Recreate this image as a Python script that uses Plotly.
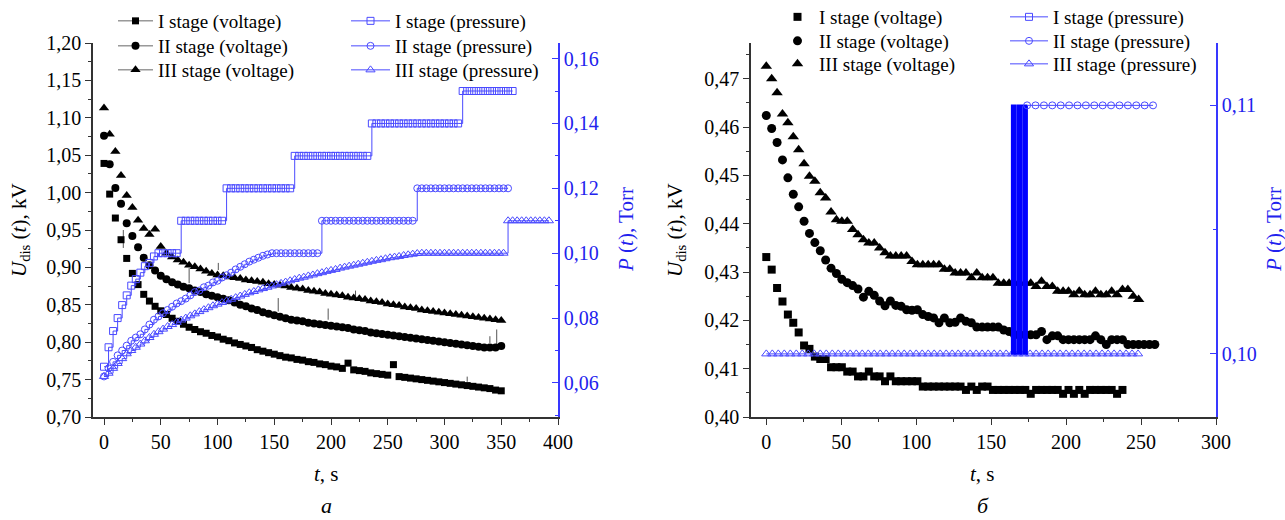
import plotly.graph_objects as go

# ---------------- DATA ----------------
# Panel a: voltage (kV), sampled every 5 s
t_volt_a = list(range(0, 351, 5))
u1_a = [1.039, 0.998, 0.966, 0.937, 0.912, 0.892, 0.877, 0.864, 0.855, 0.848,
        0.842, 0.837, 0.832, 0.828, 0.824, 0.820, 0.817, 0.814, 0.812, 0.809,
        0.807, 0.804, 0.802, 0.799, 0.797, 0.795, 0.793, 0.790, 0.788, 0.786,
        0.784, 0.782, 0.780, 0.779, 0.777, 0.776, 0.774, 0.773, 0.771, 0.770,
        0.768, 0.767, 0.765, 0.772, 0.763, 0.762, 0.761, 0.759, 0.758, 0.757,
        0.756, 0.770, 0.754, 0.753, 0.752, 0.751, 0.750, 0.749, 0.748, 0.747,
        0.746, 0.745, 0.744, 0.743, 0.742, 0.741, 0.740, 0.739, 0.738, 0.736,
        0.735]
u2_a = [1.076, 1.038, 1.006, 0.985, 0.959, 0.942, 0.927, 0.913, 0.903, 0.896,
        0.889, 0.884, 0.880, 0.877, 0.874, 0.872, 0.869, 0.867, 0.864, 0.862,
        0.860, 0.858, 0.856, 0.853, 0.850, 0.848, 0.845, 0.843, 0.840, 0.838,
        0.836, 0.834, 0.832, 0.830, 0.829, 0.828, 0.826, 0.825, 0.824, 0.823,
        0.822, 0.821, 0.820, 0.819, 0.817, 0.816, 0.815, 0.813, 0.812, 0.811,
        0.810, 0.809, 0.808, 0.807, 0.806, 0.805, 0.804, 0.803, 0.802, 0.801,
        0.800, 0.799, 0.798, 0.797, 0.796, 0.795, 0.794, 0.793, 0.793, 0.793,
        0.795]
u3_a = [1.113, 1.078, 1.055, 1.023, 0.996, 0.980, 0.963, 0.952, 0.944, 0.951,
        0.928, 0.919, 0.914, 0.910, 0.907, 0.903, 0.901, 0.898, 0.895, 0.892,
        0.890, 0.889, 0.887, 0.886, 0.885, 0.883, 0.882, 0.881, 0.880, 0.878,
        0.877, 0.876, 0.875, 0.873, 0.872, 0.871, 0.869, 0.868, 0.867, 0.865,
        0.864, 0.863, 0.862, 0.860, 0.859, 0.858, 0.857, 0.855, 0.854, 0.853,
        0.851, 0.850, 0.849, 0.847, 0.846, 0.845, 0.843, 0.842, 0.841, 0.840,
        0.839, 0.838, 0.837, 0.836, 0.835, 0.834, 0.833, 0.832, 0.831, 0.830,
        0.829]
# Panel a: thin vertical spikes seen in the voltage record (t, low, high)
spike_t = [17.0, 75.0, 100.7, 153.5, 197.5, 221.6, 320.0, 340.0, 346.0]
spike_lo = [0.926, 0.879, 0.8965, 0.841, 0.830, 0.8587, 0.747, 0.799, 0.796]
spike_hi = [0.950, 0.899, 0.906, 0.859, 0.845, 0.869, 0.754, 0.808, 0.817]

# Panel a: pressure (Torr), sampled every 4 s
t_p1_a = list(range(0, 361, 4))
p1_a = [0.065, 0.071, 0.076, 0.080, 0.084, 0.087, 0.090, 0.092, 0.094, 0.096,
        0.097, 0.099, 0.100, 0.100, 0.100, 0.100, 0.100,
        0.110, 0.110, 0.110, 0.110, 0.110, 0.110, 0.110, 0.110, 0.110, 0.110,
        0.120, 0.120, 0.120, 0.120, 0.120, 0.120, 0.120, 0.120, 0.120, 0.120,
        0.120, 0.120, 0.120, 0.120, 0.120,
        0.130, 0.130, 0.130, 0.130, 0.130, 0.130, 0.130, 0.130, 0.130, 0.130,
        0.130, 0.130, 0.130, 0.130, 0.130, 0.130, 0.130,
        0.140, 0.140, 0.140, 0.140, 0.140, 0.140, 0.140, 0.140, 0.140, 0.140,
        0.140, 0.140, 0.140, 0.140, 0.140, 0.140, 0.140, 0.140, 0.140, 0.140,
        0.150, 0.150, 0.150, 0.150, 0.150, 0.150, 0.150, 0.150, 0.150, 0.150,
        0.150, 0.150]
t_p2_a = list(range(0, 357, 4))
p2_a = [0.0620, 0.0645, 0.0665, 0.0685, 0.0700, 0.0715, 0.0730, 0.0740, 0.0750, 0.0765,
        0.0780, 0.0795, 0.0805, 0.0815, 0.0825, 0.0835, 0.0845, 0.0852, 0.0860, 0.0870,
        0.0880, 0.0885, 0.0895, 0.0900, 0.0910, 0.0915, 0.0925, 0.0932, 0.0940, 0.0950,
        0.0958, 0.0966, 0.0974, 0.0980, 0.0986, 0.0992, 0.0996, 0.1000,
        0.100, 0.100, 0.100, 0.100, 0.100, 0.100, 0.100, 0.100, 0.100, 0.100,
        0.110, 0.110, 0.110, 0.110, 0.110, 0.110, 0.110, 0.110, 0.110, 0.110,
        0.110, 0.110, 0.110, 0.110, 0.110, 0.110, 0.110, 0.110, 0.110, 0.110, 0.110,
        0.120, 0.120, 0.120, 0.120, 0.120, 0.120, 0.120, 0.120, 0.120, 0.120,
        0.120, 0.120, 0.120, 0.120, 0.120, 0.120, 0.120, 0.120, 0.120, 0.120, 0.120]
t_p3_a = list(range(0, 393, 4))
p3_a = [0.0620, 0.0630, 0.0645, 0.0660, 0.0675, 0.0690, 0.0700, 0.0710, 0.0720, 0.0730,
        0.0740, 0.0750, 0.0758, 0.0766, 0.0774, 0.0780, 0.0787, 0.0794, 0.0800, 0.0807,
        0.0813, 0.0820, 0.0826, 0.0832, 0.0838, 0.0843, 0.0848, 0.0853, 0.0858, 0.0863,
        0.0868, 0.0873, 0.0878, 0.0882, 0.0887, 0.0891, 0.0895, 0.0899, 0.0903, 0.0907,
        0.0911, 0.0915, 0.0919, 0.0923, 0.0926, 0.0930, 0.0933, 0.0937, 0.0940, 0.0944,
        0.0947, 0.0950, 0.0954, 0.0957, 0.0960, 0.0963, 0.0966, 0.0969, 0.0972, 0.0975,
        0.0978, 0.0980, 0.0983, 0.0986, 0.0988, 0.0990, 0.0993, 0.0995, 0.0997, 0.0999,
        0.100, 0.100, 0.100, 0.100, 0.100, 0.100, 0.100, 0.100, 0.100, 0.100,
        0.100, 0.100, 0.100, 0.100, 0.100, 0.100, 0.100, 0.100, 0.100,
        0.110, 0.110, 0.110, 0.110, 0.110, 0.110, 0.110, 0.110, 0.110, 0.110]

# Panel b: voltage (kV), sampled every 3.6 s
t_v1_b = [round(3.6 * i, 1) for i in range(67)]
u1_b = [0.4331, 0.4305, 0.4267, 0.4239, 0.4212, 0.4195, 0.4175, 0.4148, 0.4141, 0.4125,
        0.4120, 0.4120, 0.4103, 0.4103, 0.4103, 0.4094, 0.4094, 0.4084, 0.4084, 0.4094,
        0.4084, 0.4084, 0.4074, 0.4084, 0.4074, 0.4074, 0.4074, 0.4074, 0.4074, 0.4063,
        0.4063, 0.4063, 0.4063, 0.4063, 0.4063, 0.4063, 0.4063, 0.4056, 0.4063, 0.4056,
        0.4063, 0.4063, 0.4056, 0.4056, 0.4056, 0.4056, 0.4056, 0.4056, 0.4056, 0.4048,
        0.4056, 0.4056, 0.4056, 0.4056, 0.4056, 0.4048, 0.4056, 0.4048, 0.4056, 0.4048,
        0.4056, 0.4056, 0.4056, 0.4056, 0.4056, 0.4048, 0.4056]
t_v2_b = [round(3.6 * i, 1) for i in range(73)]
u2_b = [0.4624, 0.4597, 0.4568, 0.4532, 0.4495, 0.4461, 0.4435, 0.4405, 0.4380, 0.4361,
        0.4344, 0.4325, 0.4308, 0.4297, 0.4285, 0.4278, 0.4272, 0.4265, 0.4248, 0.4260,
        0.4252, 0.4240, 0.4230, 0.4240, 0.4231, 0.4229, 0.4222, 0.4221, 0.4222, 0.4212,
        0.4208, 0.4205, 0.4195, 0.4205, 0.4195, 0.4196, 0.4205, 0.4198, 0.4195, 0.4186,
        0.4186, 0.4186, 0.4186, 0.4186, 0.4180, 0.4177, 0.4170, 0.4170, 0.4170, 0.4170,
        0.4170, 0.4177, 0.4160, 0.4168, 0.4168, 0.4160, 0.4160, 0.4160, 0.4160, 0.4160,
        0.4160, 0.4168, 0.4160, 0.4150, 0.4160, 0.4160, 0.4160, 0.4150, 0.4150, 0.4150,
        0.4150, 0.4150, 0.4150]
t_v3_b = [round(3.6 * i, 1) for i in range(70)]
u3_b = [0.4726, 0.4700, 0.4671, 0.4627, 0.4609, 0.4580, 0.4553, 0.4524, 0.4498, 0.4488,
        0.4464, 0.4453, 0.4424, 0.4408, 0.4405, 0.4405, 0.4388, 0.4377, 0.4367, 0.4360,
        0.4360, 0.4350, 0.4340, 0.4333, 0.4333, 0.4333, 0.4333, 0.4322, 0.4315, 0.4315,
        0.4315, 0.4315, 0.4315, 0.4306, 0.4306, 0.4298, 0.4298, 0.4298, 0.4288, 0.4298,
        0.4288, 0.4288, 0.4288, 0.4277, 0.4277, 0.4277, 0.4277, 0.4277, 0.4277, 0.4277,
        0.4270, 0.4281, 0.4270, 0.4270, 0.4260, 0.4260, 0.4260, 0.4253, 0.4260, 0.4253,
        0.4253, 0.4260, 0.4253, 0.4253, 0.4260, 0.4253, 0.4264, 0.4264, 0.4250, 0.4243]

# Panel b: pressure (Torr)
t_p1_b = [163.2, 163.7, 164.2, 164.7, 165.2, 165.7, 166.2, 167.4, 167.9, 168.4,
          168.9, 169.4, 169.9, 170.4, 171.6, 172.1, 172.6, 173.1, 173.6, 174.0]
p1_b = [0.100, 0.110, 0.100, 0.110, 0.100, 0.110, 0.100, 0.110, 0.100, 0.110,
        0.100, 0.110, 0.100, 0.110, 0.100, 0.110, 0.100, 0.110, 0.100, 0.110]
t_p2_b = [174.0, 179.6, 185.2, 190.8, 196.4, 202.0, 207.6, 213.2, 218.8, 224.4,
          230.0, 235.6, 241.2, 246.8, 252.4, 258.0]
p2_b = [0.110, 0.110, 0.110, 0.110, 0.110, 0.110, 0.110, 0.110, 0.110, 0.110,
        0.110, 0.110, 0.110, 0.110, 0.110, 0.110]
t_p3_b = list(range(0, 249, 4))
p3_b = [0.100, 0.100, 0.100, 0.100, 0.100, 0.100, 0.100, 0.100, 0.100, 0.100,
        0.100, 0.100, 0.100, 0.100, 0.100, 0.100, 0.100, 0.100, 0.100, 0.100,
        0.100, 0.100, 0.100, 0.100, 0.100, 0.100, 0.100, 0.100, 0.100, 0.100,
        0.100, 0.100, 0.100, 0.100, 0.100, 0.100, 0.100, 0.100, 0.100, 0.100,
        0.100, 0.100, 0.100, 0.100, 0.100, 0.100, 0.100, 0.100, 0.100, 0.100,
        0.100, 0.100, 0.100, 0.100, 0.100, 0.100, 0.100, 0.100, 0.100, 0.100,
        0.100, 0.100, 0.100]

volt_names = ["I stage (voltage)", "II stage (voltage)", "III stage (voltage)"]
pres_names = ["I stage (pressure)", "II stage (pressure)", "III stage (pressure)"]

# ---------------- STYLE ----------------
FONT = "Liberation Serif, Times New Roman, serif"
BLUE = "#4a4aff"
BLUE_AX = "#3838ff"
BLUE_TXT = "#2222ee"
W, H = 1285, 520
PLOT_TOP, PLOT_BOT = 43, 417
ydom = [(H - PLOT_BOT) / H, (H - PLOT_TOP) / H]
xdom_a = [93 / W, 558 / W]
xdom_b = [751 / W, 1216 / W]

fig = go.Figure()

vsym_a = [("square", 7), ("circle", 8), ("triangle-up", 9)]
vsym_b = [("square", 8), ("circle", 9), ("triangle-up", 10)]
psym = [("square-open", 7), ("circle-open", 7), ("triangle-up-open", 8)]

def lg(i):
    return "legend" if i == 1 else "legend%d" % i

# Panel a spikes
sx, sy = [], []
for t0, lo, hi in zip(spike_t, spike_lo, spike_hi):
    sx += [t0, t0, None]
    sy += [lo, hi, None]
fig.add_trace(go.Scatter(x=sx, y=sy, mode="lines", showlegend=False,
                         line=dict(color="#555555", width=1), xaxis="x", yaxis="y"))

# Panel a voltage (markers in plot, line+marker sample in legend)
for k, ((sym, sz), uu, nm) in enumerate(zip(vsym_a, [u1_a, u2_a, u3_a], volt_names)):
    fig.add_trace(go.Scatter(x=t_volt_a, y=uu, mode="markers", showlegend=False,
                             marker=dict(symbol=sym, size=sz, color="black", line=dict(width=0)),
                             xaxis="x", yaxis="y"))
    fig.add_trace(go.Scatter(x=[None], y=[None], mode="lines+markers", name=nm, legend=lg(1 + k),
                             line=dict(color="#666666", width=1),
                             marker=dict(symbol=sym, size=sz, color="black"),
                             xaxis="x", yaxis="y"))

# Panel a pressure
for k, ((sym, sz), tt, pp, nm) in enumerate(zip(psym, [t_p1_a, t_p2_a, t_p3_a], [p1_a, p2_a, p3_a], pres_names)):
    fig.add_trace(go.Scatter(x=tt, y=pp, mode="lines+markers", name=nm, legend=lg(4 + k),
                             line=dict(color=BLUE, width=1, shape="hv"),
                             marker=dict(symbol=sym, size=sz, color=BLUE, line=dict(width=1, color=BLUE)),
                             xaxis="x", yaxis="y2"))

# Panel b pressure (drawn beneath voltage)
fig.add_trace(go.Scatter(x=t_p3_b, y=p3_b, mode="lines+markers", name=pres_names[2], legend=lg(12),
                         line=dict(color=BLUE, width=1),
                         marker=dict(symbol="triangle-up-open", size=8, color=BLUE, line=dict(width=1, color=BLUE)),
                         xaxis="x2", yaxis="y4"))
fig.add_trace(go.Scatter(x=t_p1_b, y=p1_b, mode="lines", showlegend=False,
                         line=dict(color="#0000ff", width=1.6, shape="hv"),
                         xaxis="x2", yaxis="y4"))
fig.add_trace(go.Scatter(x=[None], y=[None], mode="lines+markers", name=pres_names[0], legend=lg(10),
                         line=dict(color=BLUE, width=1),
                         marker=dict(symbol="square-open", size=7, color=BLUE, line=dict(width=1, color=BLUE)),
                         xaxis="x2", yaxis="y4"))
fig.add_trace(go.Scatter(x=t_p2_b, y=p2_b, mode="lines+markers", name=pres_names[1], legend=lg(11),
                         line=dict(color=BLUE, width=1),
                         marker=dict(symbol="circle-open", size=7, color=BLUE, line=dict(width=1, color=BLUE)),
                         xaxis="x2", yaxis="y4"))

# Panel b voltage
for k, ((sym, sz), tt, uu, nm) in enumerate(zip(vsym_b, [t_v1_b, t_v2_b, t_v3_b], [u1_b, u2_b, u3_b], volt_names)):
    fig.add_trace(go.Scatter(x=tt, y=uu, mode="markers", name=nm, legend=lg(7 + k),
                             marker=dict(symbol=sym, size=sz, color="black", line=dict(width=0)),
                             xaxis="x2", yaxis="y3"))

tickfont = dict(family=FONT, size=20, color="black")
bluefont = dict(family=FONT, size=20, color=BLUE_TXT)
base_x = dict(showgrid=False, zeroline=False, showline=True, linecolor="#333333", linewidth=1.5,
              ticks="outside", ticklen=6, tickwidth=1.2, tickcolor="#333333", tickfont=tickfont,
              dtick=50, tick0=0, automargin=False,
              minor=dict(ticks="outside", ticklen=3, dtick=25, tickcolor="#333333", tickwidth=1))
base_yl = dict(showgrid=False, zeroline=False, showline=True, linecolor="#333333", linewidth=1.5,
               ticks="outside", ticklen=6, tickwidth=1.2, tickcolor="#333333", tickfont=tickfont,
               tickformat=".2f", domain=ydom, automargin=False)
base_yr = dict(showgrid=False, zeroline=False, showline=True, linecolor=BLUE_AX, linewidth=1.5,
               ticks="inside", ticklen=6, tickwidth=1.2, tickcolor=BLUE_AX, tickfont=bluefont,
               tickformat=".2f", side="right", automargin=False)

legend_common = dict(xref="paper", yref="paper", xanchor="left", yanchor="top",
                     bgcolor="rgba(0,0,0,0)", font=dict(family=FONT, size=19, color="black"),
                     tracegroupgap=0, borderwidth=0)

OFF = 16
def leg(xpx, ypx, iw):
    return dict(legend_common, x=xpx / W, y=1 - (ypx - OFF) / H, itemwidth=iw)

fig.update_layout(
    template="none",
    width=W, height=H, autosize=False,
    margin=dict(l=0, r=0, t=0, b=0, autoexpand=False),
    paper_bgcolor="white", plot_bgcolor="white",
    separators=",.",
    font=dict(family=FONT, size=20, color="black"),
    xaxis=dict(base_x, domain=xdom_a, range=[-9.7, 400], anchor="y"),
    yaxis=dict(base_yl, range=[0.70, 1.20], dtick=0.05, tick0=0.70, anchor="x",
               minor=dict(ticks="outside", ticklen=3, dtick=0.025, tickcolor="#333333", tickwidth=1)),
    yaxis2=dict(base_yr, range=[0.0495, 0.1648], dtick=0.02, tick0=0.06, overlaying="y", anchor="x",
                minor=dict(ticks="inside", ticklen=3, dtick=0.01, tickcolor=BLUE_AX, tickwidth=1)),
    xaxis2=dict(base_x, domain=xdom_b, range=[-10.2, 300], anchor="y3"),
    yaxis3=dict(base_yl, range=[0.40, 0.4774], dtick=0.01, tick0=0.40, anchor="x2",
                minor=dict(ticks="outside", ticklen=3, dtick=0.005, tickcolor="#333333", tickwidth=1)),
    yaxis4=dict(base_yr, range=[0.09746, 0.11251], tickvals=[0.10, 0.11], overlaying="y3", anchor="x2",
                minor=dict(ticks="inside", ticklen=3, tickvals=[0.105], tickcolor=BLUE_AX, tickwidth=1)),
    showlegend=True,
    legend=leg(113, 18, 35), legend2=leg(113, 43, 35), legend3=leg(113, 67, 35),
    legend4=leg(346, 18, 39), legend5=leg(346, 43, 39), legend6=leg(346, 67, 39),
    legend7=leg(776, 14, 33), legend8=leg(776, 38, 33), legend9=leg(776, 61, 33),
    legend10=leg(1005, 14, 38), legend11=leg(1005, 38, 38), legend12=leg(1005, 61, 38),
)

ann = [
    dict(x=20 / W, y=(H - 230) / H, text="<i>U</i><sub>dis</sub> (<i>t</i>), kV", textangle=-90,
         font=dict(family=FONT, size=21, color="black")),
    dict(x=626 / W, y=(H - 230) / H, text="<i>P</i> (<i>t</i>), Torr", textangle=-90,
         font=dict(family=FONT, size=21, color=BLUE_TXT)),
    dict(x=676 / W, y=(H - 230) / H, text="<i>U</i><sub>dis</sub> (<i>t</i>), kV", textangle=-90,
         font=dict(family=FONT, size=21, color="black")),
    dict(x=1274 / W, y=(H - 230) / H, text="<i>P</i> (<i>t</i>), Torr", textangle=-90,
         font=dict(family=FONT, size=21, color=BLUE_TXT)),
    dict(x=326 / W, y=(H - 474) / H, text="<i>t</i>, s", font=dict(family=FONT, size=21, color="black")),
    dict(x=983 / W, y=(H - 474) / H, text="<i>t</i>, s", font=dict(family=FONT, size=21, color="black")),
    dict(x=326 / W, y=(H - 505) / H, text="<i>а</i>", font=dict(family=FONT, size=22, color="black")),
    dict(x=983 / W, y=(H - 505) / H, text="<i>б</i>", font=dict(family=FONT, size=22, color="black")),
]
for a in ann:
    a.update(xref="paper", yref="paper", showarrow=False, xanchor="center", yanchor="middle")
fig.update_layout(annotations=ann)

fig.write_html("out.html")
